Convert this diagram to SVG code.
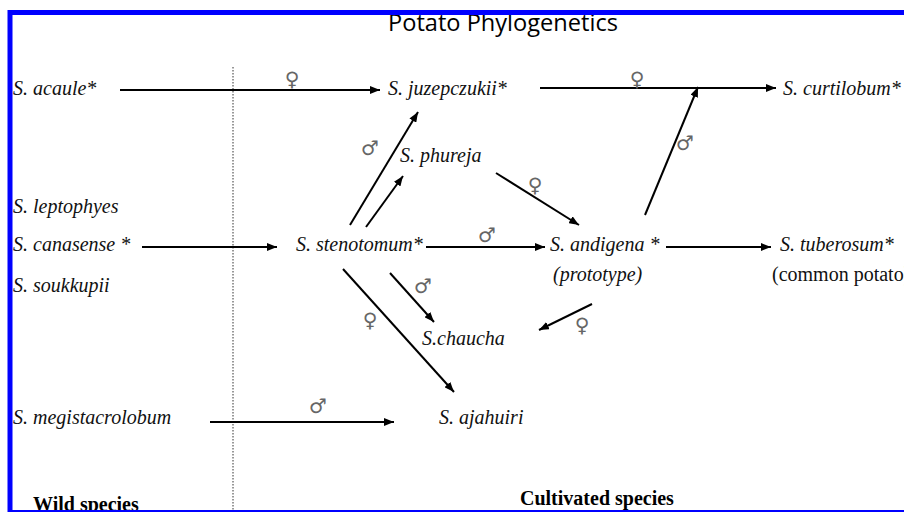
<svg xmlns="http://www.w3.org/2000/svg" width="904" height="512" viewBox="0 0 904 512">
<defs>
<marker id="ah" viewBox="0 0 10 8" refX="10" refY="4" markerWidth="10" markerHeight="8" markerUnits="userSpaceOnUse" orient="auto">
<path d="M0,0 L10,4 L0,8 Z" fill="#000"/>
</marker>
<style>
.sp{font-family:"Liberation Serif","Times New Roman",serif;font-style:italic;font-size:20px;fill:#111}
.rg{font-family:"Liberation Serif","Times New Roman",serif;font-size:20px;fill:#111}
.hd{font-family:"Liberation Serif","Times New Roman",serif;font-weight:bold;font-size:20px;fill:#000}
.sx{font-family:"DejaVu Sans",sans-serif;font-size:20px;fill:#666;text-anchor:middle}
.ar{stroke:#000;stroke-width:2;fill:none;marker-end:url(#ah)}
</style>
</defs>
<rect x="0" y="0" width="904" height="512" fill="#fff"/>
<text x="388" y="31" font-family="'Open Sans','Noto Sans',sans-serif" font-size="23.6" fill="#000">Potato Phylogenetics</text>
<line x1="233" y1="67" x2="233" y2="512" stroke="#333" stroke-width="1" stroke-dasharray="1.5,1.5"/>
<g id="connectors">
<line class="ar" x1="120" y1="90" x2="380" y2="90"/>
<line class="ar" x1="540" y1="88" x2="776" y2="88"/>
<line class="ar" x1="645" y1="215" x2="698" y2="87"/>
<line class="ar" x1="142" y1="247" x2="277" y2="247"/>
<line class="ar" x1="426" y1="247" x2="545" y2="247"/>
<line class="ar" x1="666" y1="247" x2="771" y2="247"/>
<line class="ar" x1="350" y1="225" x2="418" y2="112"/>
<line class="ar" x1="366" y1="227" x2="403" y2="176"/>
<line class="ar" x1="496" y1="173" x2="579" y2="225"/>
<line class="ar" x1="390" y1="273" x2="434" y2="322"/>
<line class="ar" x1="343" y1="269" x2="454" y2="392"/>
<line class="ar" x1="592" y1="304" x2="539" y2="330"/>
<line class="ar" x1="210" y1="422" x2="394" y2="422"/>
<text class="sx" x="292" y="86">♀</text>
<text class="sx" x="637" y="86">♀</text>
<text class="sx" x="685" y="150">♂</text>
<text class="sx" x="370" y="155">♂</text>
<text class="sx" x="535" y="192">♀</text>
<text class="sx" x="487" y="242">♂</text>
<text class="sx" x="423" y="293">♂</text>
<text class="sx" x="370" y="327">♀</text>
<text class="sx" x="582" y="332">♀</text>
<text class="sx" x="318" y="413">♂</text>
</g>
<g id="acaule"><text class="sp" x="13" y="95">S. acaule*</text></g>
<g id="juzepczukii"><text class="sp" x="388" y="95">S. juzepczukii*</text></g>
<g id="curtilobum"><text class="sp" x="783" y="95">S. curtilobum*</text></g>
<g id="phureja"><text class="sp" x="400" y="162">S. phureja</text></g>
<g id="leptophyes"><text class="sp" x="13" y="213">S. leptophyes</text></g>
<g id="canasense"><text class="sp" x="13" y="251">S. canasense *</text></g>
<g id="soukkupii"><text class="sp" x="13" y="292">S. soukkupii</text></g>
<g id="stenotomum"><text class="sp" x="296" y="251">S. stenotomum*</text></g>
<g id="andigena"><text class="sp" x="550" y="251">S. andigena *</text><text class="sp" x="553" y="281">(prototype)</text></g>
<g id="tuberosum"><text class="sp" x="780" y="251">S. tuberosum*</text><text class="rg" x="772" y="281">(common potato)</text></g>
<g id="chaucha"><text class="sp" x="422" y="345">S.chaucha</text></g>
<g id="megistacrolobum"><text class="sp" x="13" y="424">S. megistacrolobum</text></g>
<g id="ajahuiri"><text class="sp" x="439" y="424">S. ajahuiri</text></g>
<text class="hd" x="33" y="511">Wild species</text>
<text class="hd" x="520" y="505">Cultivated species</text>
<rect x="10" y="12.5" width="1000" height="500" fill="none" stroke="#0000ff" stroke-width="5"/>
</svg>
